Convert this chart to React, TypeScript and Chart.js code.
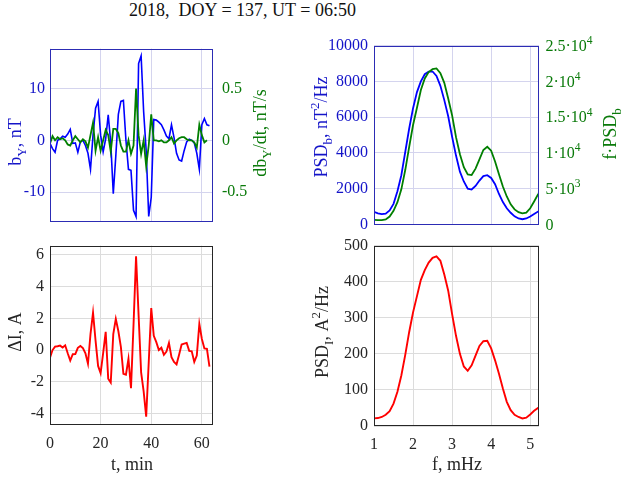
import React, { useEffect, useRef } from 'react';
import { Chart, registerables } from 'chart.js';

Chart.register(...registerables);

// ---------------- data ----------------
const titleText = '2018,  DOY = 137, UT = 06:50';

const timeMin = [
  0, 1, 2, 3, 4, 5, 6, 7, 8, 9, 10, 11, 12, 13, 14, 15, 16, 17, 18, 19, 20, 21, 22, 23, 24, 25, 26, 27, 28, 29, 30, 31,
  32, 33, 34, 35, 36, 37, 38, 39, 40, 41, 42, 43, 44, 45, 46, 47, 48, 49, 50, 51, 52, 53, 54, 55, 56, 57, 58, 59, 60, 61,
  62, 63,
];

const bY = [
  -0.6, -1.6, -2.3, 0.0, 0.3, 0.8, 0.6, 1.2, 2.1, -0.6,
  -0.5, -2.3, -0.3, 0.0, -1.0, -2.5, -5.6, 1.0, 6.2, 7.5,
  1.0, -2.2, 0.3, 4.9, -0.5, -10.3, -3.0, 5.0, 7.5, 7.7,
  0.0, -5.6, -5.8, -13.5, -14.7, 14.8, 16.3, 5.5, -2.0, -14.7,
  -11.0, 4.0, 3.9, 3.5, 3.0, 2.0, 0.8, 0.3, 3.0, 0.5,
  -2.5, -3.8, -4.0, -2.0, -0.3, 0.2, 0.0, -0.5, -2.5, -5.6,
  3.0, 4.2, 3.0, 2.8,
];

const dbYdt = [
  -0.03, 0.04, 0.0, 0.03, 0.01, 0.02, 0.0, -0.04, -0.05, 0.0,
  0.04, 0.01, -0.02, 0.01, -0.01, -0.07, 0.05, 0.17, -0.1, 0.03,
  -0.1, 0.0, 0.1, 0.05, -0.11, 0.11, 0.11, 0.07, -0.05, -0.11,
  -0.11, 0.0, -0.13, -0.05, 0.5, 0.05, -0.13, 0.0, -0.25, -0.05,
  0.25, 0.0, 0.0, -0.01, 0.0, -0.02, -0.02, 0.0, 0.03, -0.03,
  0.0, 0.02, 0.03, 0.03, 0.01, 0.0, 0.0, -0.02, -0.07, 0.15,
  0.05, -0.02, 0.0,
];

const deltaI = [
  -0.48, 0.0, 0.22, 0.24, 0.28, 0.16, 0.3, -0.2, -0.66, -0.26,
  -0.25, 0.14, 0.26, 0.12, -0.2, -0.86, 1.0, 2.35, 0.6, -1.0,
  -1.45, -0.2, 1.15, -1.8, -2.05, 1.0, 1.96, 1.2, 0.2, -1.5,
  -1.55, -0.55, -2.4, 1.6, 5.9, 2.2, -1.4, -2.6, -4.2, -0.8,
  2.65, 0.9, 0.5, 0.0, 0.15, -0.3, -0.1, 0.45, -0.45, -0.75,
  -0.9, -0.3, 0.35, 0.4, 0.45, -0.05, -0.08, -0.75, -0.35, 1.65,
  0.7, 0.1, 0.08, -1.05,
];

const freqMHz = [
  1.0, 1.1, 1.2, 1.3, 1.4, 1.5, 1.6, 1.7, 1.8, 1.9,
  2.0, 2.1, 2.2, 2.3, 2.4, 2.5, 2.6, 2.7, 2.8, 2.9,
  3.0, 3.1, 3.2, 3.3, 3.4, 3.5, 3.6, 3.7, 3.8, 3.9,
  4.0, 4.1, 4.2, 4.3, 4.4, 4.5, 4.6, 4.7, 4.8, 4.9,
  5.0, 5.1, 5.2, 5.22,
];

const psdB = [
  700, 620, 580, 600, 780, 1150, 1850, 2750, 4050, 5350,
  6500, 7400, 8000, 8400, 8550, 8550, 8300, 7750, 6950, 6050,
  4900, 3850, 2950, 2400, 2000, 1950, 2150, 2450, 2700, 2750,
  2600, 2250, 1700, 1250, 900, 650, 450, 330, 290, 330,
  440, 580, 720, 760,
];

const fPsdB = [
  640, 600, 595, 700, 1100, 1900, 3100, 4900, 7600, 10800,
  13900, 16300, 18800, 20400, 21300, 21700, 21800, 21150, 19800, 17600,
  15250, 12200, 9800, 8000, 7000, 6900, 7800, 9100, 10400, 10850,
  10300, 8800, 7000, 5300, 3900, 2800, 2100, 1700, 1550, 1650,
  2250, 3200, 4200, 4500,
];

const psdI = [
  21, 22, 25, 31, 41, 62, 95, 140, 197, 260,
  315, 360, 405, 432, 453, 466, 470, 458, 420, 375,
  310, 250, 200, 165, 153, 168, 195, 222, 235, 236,
  215, 182, 145, 104, 67, 44, 31, 25, 21, 23,
  32, 42, 50, 53,
];

const timeTicks = [0, 20, 40, 60];
const freqTicks = [1, 2, 3, 4, 5];
const bYTicks = [-10, 0, 10];
const dbTicks = [-0.5, 0, 0.5];
const dITicks = [-4, -2, 0, 2, 4, 6];
const psdBTicks = [0, 2000, 4000, 6000, 8000, 10000];
const fPsdTicks = [0, 5000, 10000, 15000, 20000, 25000];
const fPsdTickLabels = ['0', '5·10^{3}', '1·10^{4}', '1.5·10^{4}', '2·10^{4}', '2.5·10^{4}'];
const psdITicks = [0, 100, 200, 300, 400, 500];

// ---------------- style ----------------
const FONT = '"Liberation Serif", "Times New Roman", serif';
const BLUE = '#0000ff';
const BLUE_TXT = '#1414c8';
const GREEN = '#007f00';
const GREEN_TXT = '#0a7a0a';
const RED = '#ff0000';
const DARK = '#262626';
const BOX_TOP = '#2c2cb4';
const GRID_TOP = '#d4d4ee';
const GRID_BOT = '#dcdcdc';

type Lbl = {
  text: string;
  x: number;
  y: number;
  rot?: number;
  color: string;
  align?: 'left' | 'center' | 'right';
  size?: number;
};

function parseRich(s: string) {
  const out: { t: string; k: string }[] = [];
  const re = /([_^])\{([^}]*)\}/g;
  let last = 0;
  let m: RegExpExecArray | null;
  while ((m = re.exec(s))) {
    if (m.index > last) out.push({ t: s.slice(last, m.index), k: '' });
    out.push({ t: m[2], k: m[1] });
    last = re.lastIndex;
  }
  if (last < s.length) out.push({ t: s.slice(last), k: '' });
  return out;
}

function drawRich(ctx: CanvasRenderingContext2D, l: Lbl) {
  const size = l.size ?? 18;
  const parts = parseRich(l.text);
  ctx.save();
  ctx.translate(l.x, l.y);
  if (l.rot) ctx.rotate(l.rot);
  ctx.fillStyle = l.color;
  ctx.textBaseline = 'alphabetic';
  ctx.textAlign = 'left';
  const sized = parts.map((p) => {
    const fs = p.k ? size * 0.72 : size;
    ctx.font = `${fs}px ${FONT}`;
    return { ...p, fs, w: ctx.measureText(p.t).width };
  });
  const total = sized.reduce((a, p) => a + p.w, 0);
  let x = l.align === 'left' ? 0 : l.align === 'right' ? -total : -total / 2;
  const base = size * 0.33;
  for (const p of sized) {
    ctx.font = `${p.fs}px ${FONT}`;
    const dy = p.k === '_' ? size * 0.28 : p.k === '^' ? -size * 0.42 : 0;
    ctx.fillText(p.t, x, base + dy);
    x += p.w;
  }
  ctx.restore();
}

function decor(offX: number, offY: number, boxColor: string, labels: Lbl[], extra?: (c: any) => void) {
  return {
    id: 'decor',
    afterDraw(chart: any) {
      const ctx = chart.ctx as CanvasRenderingContext2D;
      const a = chart.chartArea;
      ctx.save();
      ctx.strokeStyle = boxColor;
      ctx.lineWidth = 1;
      ctx.strokeRect(
        Math.round(a.left) + 0.5,
        Math.round(a.top) + 0.5,
        Math.round(a.right - a.left) - 1,
        Math.round(a.bottom - a.top) - 1
      );
      ctx.restore();
      if (extra) extra(chart);
      for (const l of labels) drawRich(ctx, { ...l, x: l.x - offX, y: l.y - offY });
    },
  };
}

const pts = (xs: number[], ys: number[]) => ys.map((y, i) => ({ x: xs[i], y }));

function xScale(min: number, max: number, ticks: number[], height: number, grid: string, show: boolean) {
  return {
    type: 'linear',
    position: 'bottom',
    min,
    max,
    afterBuildTicks: (s: any) => {
      s.ticks = ticks.map((v) => ({ value: v }));
    },
    afterFit: (s: any) => {
      s.height = height;
    },
    grid: { color: grid, drawTicks: false, lineWidth: 1 },
    border: { display: false },
    ticks: {
      display: show,
      color: DARK,
      padding: 9,
      maxRotation: 0,
      font: { family: FONT, size: 16 },
      callback: (v: any) => String(v),
    },
  };
}

function yScale(
  position: 'left' | 'right',
  min: number,
  max: number,
  ticks: number[],
  width: number,
  padding: number,
  color: string,
  grid: string | null,
  show = true
) {
  return {
    type: 'linear',
    position,
    min,
    max,
    afterBuildTicks: (s: any) => {
      s.ticks = ticks.map((v) => ({ value: v }));
    },
    afterFit: (s: any) => {
      s.width = width;
    },
    grid: grid ? { color: grid, drawTicks: false, lineWidth: 1 } : { display: false, drawTicks: false },
    border: { display: false },
    ticks: {
      display: show,
      color,
      padding,
      font: { family: FONT, size: 16 },
      callback: (v: any) => String(v),
    },
  };
}

const baseOptions = (padding: any, scales: any) => ({
  animation: false,
  responsive: false,
  events: [],
  layout: { padding },
  plugins: { legend: { display: false }, tooltip: { enabled: false }, title: { display: false } },
  elements: { point: { radius: 0 }, line: { tension: 0 } },
  scales,
});

type Box = { left: number; top: number; width: number; height: number };

const P_TL: Box = { left: 0, top: 30, width: 300, height: 210 };
const P_TR: Box = { left: 290, top: 30, width: 334, height: 210 };
const P_BL: Box = { left: 0, top: 230, width: 300, height: 247 };
const P_BR: Box = { left: 290, top: 230, width: 334, height: 247 };

function buildTL(b: Box): any {
  return {
    type: 'line',
    data: {
      datasets: [
        { data: pts(timeMin, dbYdt), borderColor: GREEN, borderWidth: 1.8, yAxisID: 'y1', pointRadius: 0 },
        { data: pts(timeMin, bY), borderColor: BLUE, borderWidth: 1.6, yAxisID: 'y', pointRadius: 0 },
      ],
    },
    options: baseOptions(
      { top: 14, left: 0, right: 0, bottom: 0 },
      {
        x: xScale(0, 64.4, timeTicks, 13, GRID_TOP, false),
        y: yScale('left', -15.65, 17.7, bYTicks, 50, 5, BLUE_TXT, GRID_TOP),
        y1: yScale('right', -0.7825, 0.885, dbTicks, 87, 9, GREEN_TXT, null),
      }
    ),
    plugins: [
      decor(b.left, b.top, BOX_TOP, [
        { text: 'b_{Y}, nT', x: 15, y: 142, rot: -Math.PI / 2, color: BLUE_TXT },
        { text: 'db_{Y}/dt, nT/s', x: 260, y: 133, rot: -Math.PI / 2, color: GREEN_TXT },
      ]),
    ],
  };
}

function buildTR(b: Box): any {
  return {
    type: 'line',
    data: {
      datasets: [
        { data: pts(freqMHz, fPsdB), borderColor: GREEN, borderWidth: 1.8, yAxisID: 'y1', pointRadius: 0 },
        { data: pts(freqMHz, psdB), borderColor: BLUE, borderWidth: 1.8, yAxisID: 'y', pointRadius: 0 },
      ],
    },
    options: baseOptions(
      { top: 14, left: 0, right: 0, bottom: 0 },
      {
        x: xScale(1, 5.225, freqTicks, 13, GRID_TOP, false),
        y: yScale('left', 0, 10000, psdBTicks, 84, 6, BLUE_TXT, GRID_TOP),
        y1: yScale('right', 0, 25000, fPsdTicks, 85, 6, GREEN_TXT, null, false),
      }
    ),
    plugins: [
      decor(
        b.left,
        b.top,
        BOX_TOP,
        [
          { text: 'PSD_{b}, nT^{2}/Hz', x: 321, y: 127, rot: -Math.PI / 2, color: BLUE_TXT },
          { text: 'f·PSD_{b}', x: 610, y: 134, rot: -Math.PI / 2, color: GREEN_TXT },
        ],
        (chart: any) => {
          const sc = chart.scales.y1;
          const a = chart.chartArea;
          fPsdTicks.forEach((v, i) => {
            drawRich(chart.ctx, {
              text: fPsdTickLabels[i],
              x: a.right + 6.5,
              y: sc.getPixelForValue(v),
              color: GREEN_TXT,
              align: 'left',
              size: 16,
            });
          });
        }
      ),
    ],
  };
}

function buildBL(b: Box): any {
  return {
    type: 'line',
    data: {
      datasets: [{ data: pts(timeMin, deltaI), borderColor: RED, borderWidth: 1.9, pointRadius: 0 }],
    },
    options: baseOptions(
      { top: 9, left: 0, right: 87, bottom: 0 },
      {
        x: xScale(0, 64.4, timeTicks, 52, GRID_BOT, true),
        y: yScale('left', -4.72, 6.58, dITicks, 50, 6, DARK, GRID_BOT),
      }
    ),
    plugins: [
      decor(b.left, b.top, DARK, [
        { text: 'ΔI, A', x: 15, y: 332, rot: -Math.PI / 2, color: DARK },
        { text: 't, min', x: 132, y: 464, color: DARK },
      ]),
    ],
  };
}

function buildBR(b: Box): any {
  return {
    type: 'line',
    data: {
      datasets: [{ data: pts(freqMHz, psdI), borderColor: RED, borderWidth: 1.9, pointRadius: 0 }],
    },
    options: baseOptions(
      { top: 10, left: 0, right: 85, bottom: 0 },
      {
        x: xScale(1, 5.225, freqTicks, 51, GRID_BOT, true),
        y: yScale('left', 0, 500, psdITicks, 84, 6, DARK, GRID_BOT),
      }
    ),
    plugins: [
      decor(b.left, b.top, DARK, [
        { text: 'PSD_{I}, A^{2}/Hz', x: 322, y: 332, rot: -Math.PI / 2, color: DARK },
        { text: 'f, mHz', x: 457, y: 464, color: DARK },
      ]),
    ],
  };
}

function Panel({ box, build }: { box: Box; build: (b: Box) => any }) {
  const ref = useRef<HTMLCanvasElement>(null);
  useEffect(() => {
    if (!ref.current) return;
    const chart = new Chart(ref.current, build(box));
    return () => chart.destroy();
  }, []);
  return (
    <canvas
      ref={ref}
      width={box.width}
      height={box.height}
      style={{ position: 'absolute', left: box.left, top: box.top, width: box.width, height: box.height }}
    />
  );
}

export default function App() {
  return (
    <div
      style={{
        position: 'absolute',
        left: 0,
        top: 0,
        width: 624,
        height: 477,
        background: '#ffffff',
        overflow: 'hidden',
      }}
    >
      <div
        style={{
          position: 'absolute',
          left: 0,
          top: -1,
          width: 485,
          textAlign: 'center',
          fontFamily: FONT,
          fontSize: 18,
          lineHeight: '22px',
          whiteSpace: 'pre',
          color: '#111111',
        }}
      >
        {titleText}
      </div>
      <Panel box={P_TL} build={buildTL} />
      <Panel box={P_TR} build={buildTR} />
      <Panel box={P_BL} build={buildBL} />
      <Panel box={P_BR} build={buildBR} />
    </div>
  );
}
